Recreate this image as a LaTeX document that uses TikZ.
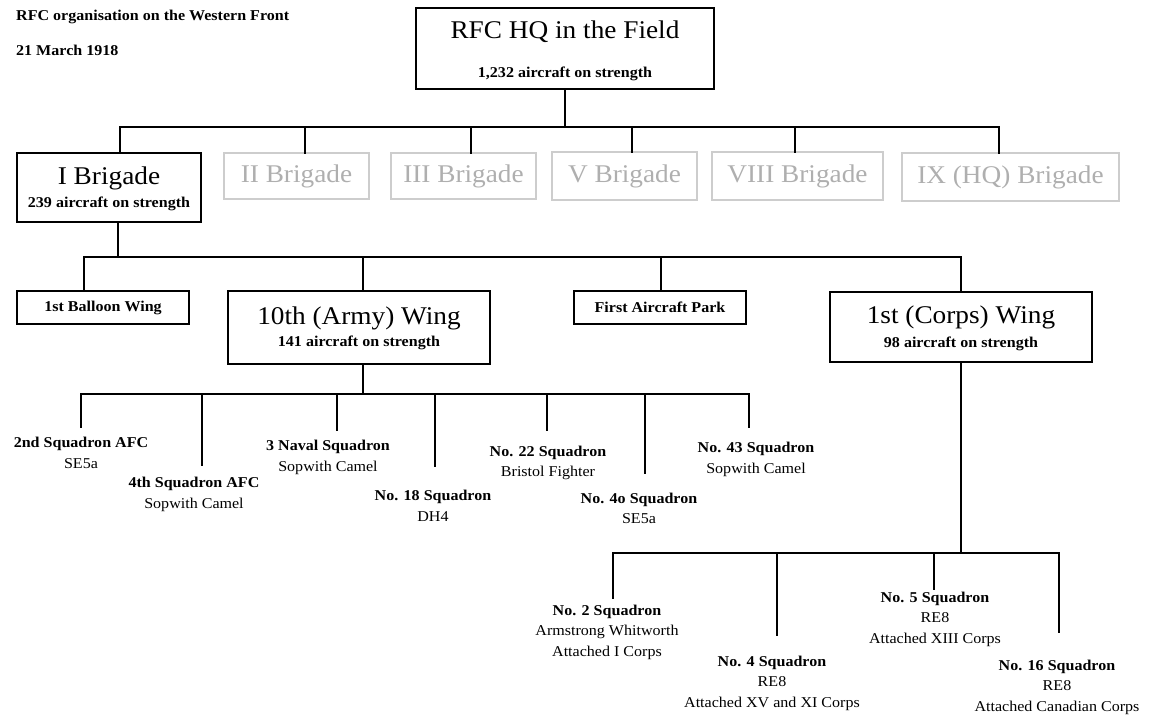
\documentclass[tikz,border=0pt]{standalone}
\usepackage{fontspec}
\setmainfont[FakeStretch=1.07]{Liberation Serif}
\definecolor{gboxc}{RGB}{205,205,205}
\definecolor{gtext}{RGB}{175,175,175}
\begin{document}
\begin{tikzpicture}[x=1pt,y=-1pt,
  box/.style={draw=black, line width=1.3pt, inner sep=0pt},
  gbox/.style={draw=gboxc, line width=1.2pt, inner sep=0pt},
  conn/.style={line width=2.6pt, line cap=rect},
  big/.style={font=\fontsize{25.5}{30}\selectfont, inner sep=0pt},
  sub/.style={font=\fontsize{15}{20}\selectfont\bfseries, inner sep=0pt},
  sq/.style={align=center, inner sep=0pt, font=\fontsize{15}{20.5}\selectfont},
  ttl/.style={font=\fontsize{15}{20}\selectfont\bfseries, inner sep=0pt, anchor=west},
]
\useasboundingbox (0,0) rectangle (1157,715);

% titles
\node[ttl] (t1) at (16,17) {RFC organisation on the Western Front};
\node[ttl] (t2) at (16,50) {21 March 1918};

% HQ
\node[box, minimum width=298pt, minimum height=81pt] (hq) at (565,48.5) {};
\node[big] (hqt) at (565,32) {RFC HQ in the Field};
\node[sub] (hqs) at (565,74) {1,232 aircraft on strength};

% brigades
\node[box, minimum width=184pt, minimum height=69pt] (b1) at (109,187.5) {};
\node[big] (b1t) at (109,178) {I Brigade};
\node[sub] (b1s) at (109,204) {239 aircraft on strength};
\node[gbox, minimum width=145pt, minimum height=46pt, big, text=gtext] (b2) at (296.5,176) {II Brigade};
\node[gbox, minimum width=145pt, minimum height=46pt, big, text=gtext] (b3) at (463.5,176) {III Brigade};
\node[gbox, minimum width=145pt, minimum height=48pt, big, text=gtext] (b5) at (624.5,176) {V Brigade};
\node[gbox, minimum width=171pt, minimum height=48pt, big, text=gtext] (b8) at (797.5,176) {VIII Brigade};
\node[gbox, minimum width=217pt, minimum height=48pt, big, text=gtext] (b9) at (1010.5,177) {IX (HQ) Brigade};

% wings
\node[box, minimum width=172pt, minimum height=33pt, sub] (bw) at (103,307.5) {1st Balloon Wing};
\node[box, minimum width=262pt, minimum height=73pt] (w10) at (359,327.5) {};
\node[big] (w10t) at (359,318) {10th (Army) Wing};
\node[sub] (w10s) at (359,343) {141 aircraft on strength};
\node[box, minimum width=172pt, minimum height=33pt, sub] (ap) at (660,307.5) {First Aircraft Park};
\node[box, minimum width=262pt, minimum height=70pt] (w1) at (961,327) {};
\node[big] (w1t) at (961,317) {1st (Corps) Wing};
\node[sub] (w1s) at (961,344) {98 aircraft on strength};

% army wing squadrons
\node[sq] (s2a) at (81,453) {\bfseries 2nd Squadron AFC\\SE5a};
\node[sq] (s4a) at (194,494.5) {\bfseries 4th Squadron AFC\\Sopwith Camel};
\node[sq] (n3) at (328,457.5) {\bfseries 3 Naval Squadron\\Sopwith Camel};
\node[sq] (s18) at (433,506) {\bfseries No. 18 Squadron\\DH4};
\node[sq] (s22) at (548,463) {\bfseries No. 22 Squadron\\Bristol Fighter};
\node[sq] (s40) at (639,508.5) {\bfseries No. 4o Squadron\\SE5a};
\node[sq] (s43) at (756,459.5) {\bfseries No. 43 Squadron\\Sopwith Camel};

% corps wing squadrons
\node[sq] (s2) at (607,632) {\bfseries No. 2 Squadron\\Armstrong Whitworth\\Attached I Corps};
\node[sq] (s4) at (772,683) {\bfseries No. 4 Squadron\\RE8\\Attached XV and XI Corps};
\node[sq] (s5) at (935,619) {\bfseries No. 5 Squadron\\RE8\\Attached XIII Corps};
\node[sq] (s16) at (1057,687) {\bfseries No. 16 Squadron\\RE8\\Attached Canadian Corps};

% level 1 connectors
\coordinate (a1) at (120,127);
\coordinate (a2) at (305,127);
\coordinate (a3) at (471,127);
\coordinate (a5) at (632,127);
\coordinate (a8) at (795,127);
\coordinate (a9) at (999,127);
\draw[conn] (hq.south) -- (hq.south |- a1);
\draw[conn] (a1) -- (a9);
\draw[conn] (a1) -- (a1 |- b1.north);
\draw[conn] (a2) -- (a2 |- b2.north);
\draw[conn] (a3) -- (a3 |- b3.north);
\draw[conn] (a5) -- (a5 |- b5.north);
\draw[conn] (a8) -- (a8 |- b8.north);
\draw[conn] (a9) -- (a9 |- b9.north);

% level 2 connectors
\coordinate (c0) at (118,257);
\coordinate (c1) at (84,257);
\coordinate (c2) at (363,257);
\coordinate (c3) at (661,257);
\coordinate (c4) at (961,257);
\draw[conn] (b1.south -| c0) -- (c0);
\draw[conn] (c1) -- (c4);
\draw[conn] (c1) -- (c1 |- bw.north);
\draw[conn] (c2) -- (c2 |- w10.north);
\draw[conn] (c3) -- (c3 |- ap.north);
\draw[conn] (c4) -- (c4 |- w1.north);

% level 3 connectors (army wing)
\coordinate (e0) at (363,394);
\coordinate (e1) at (81,394);
\coordinate (e2) at (202,394);
\coordinate (e3) at (337,394);
\coordinate (e4) at (435,394);
\coordinate (e5) at (547,394);
\coordinate (e6) at (645,394);
\coordinate (e7) at (749,394);
\draw[conn] (w10.south -| e0) -- (e0);
\draw[conn] (e1) -- (e7);
\draw[conn] (e1) -- ++(0,33);
\draw[conn] (e2) -- ++(0,71);
\draw[conn] (e3) -- ++(0,36);
\draw[conn] (e4) -- ++(0,72);
\draw[conn] (e5) -- ++(0,36);
\draw[conn] (e6) -- ++(0,79);
\draw[conn] (e7) -- ++(0,33);

% level 3 connectors (corps wing)
\coordinate (f0) at (961,553);
\coordinate (f1) at (613,553);
\coordinate (f2) at (777,553);
\coordinate (f3) at (934,553);
\coordinate (f4) at (1059,553);
\draw[conn] (w1.south -| f0) -- (f0);
\draw[conn] (f1) -- (f4);
\draw[conn] (f1) -- ++(0,45);
\draw[conn] (f2) -- ++(0,82);
\draw[conn] (f3) -- ++(0,36);
\draw[conn] (f4) -- ++(0,79);
\end{tikzpicture}
\end{document}
